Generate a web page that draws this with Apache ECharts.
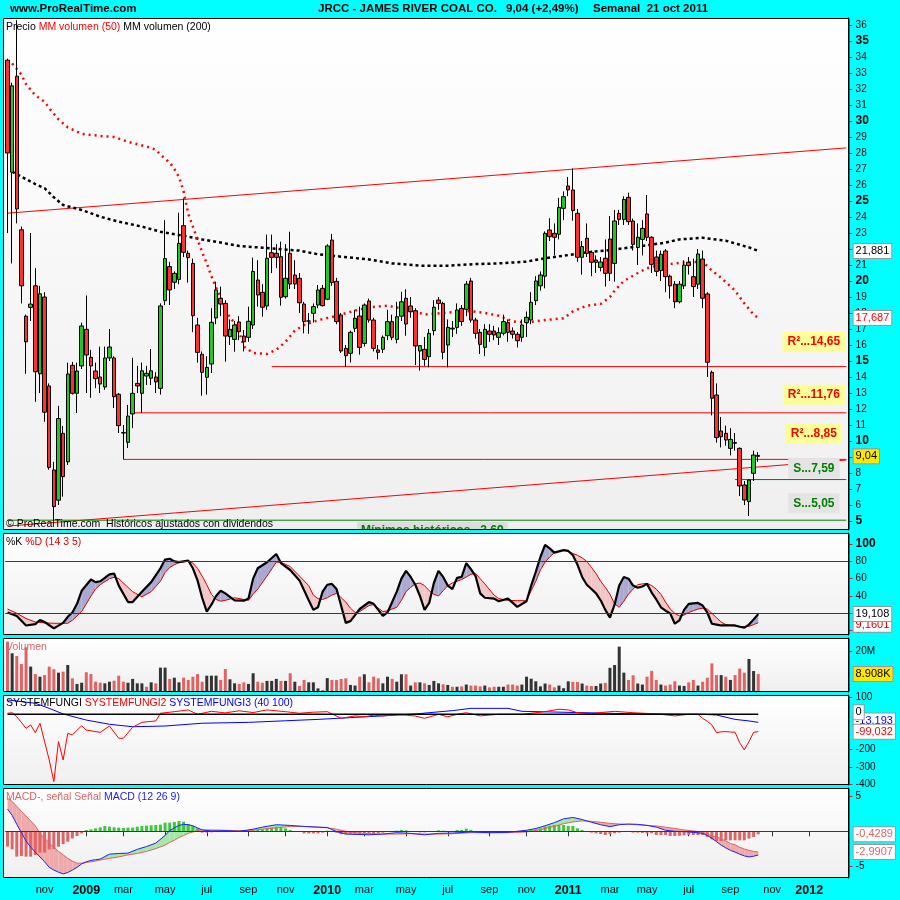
<!DOCTYPE html>
<html>
<head>
<meta charset="utf-8">
<title>JRCC - JAMES RIVER COAL CO.</title>
<script src="https://cdn.jsdelivr.net/npm/echarts@6.0.0/dist/echarts.min.js"></script>
<style>
html,body{margin:0;padding:0;background:#00ffff;}
#chart{width:900px;height:900px;}
</style>
</head>
<body>
<div id="chart"></div>
<script>
// ================= DATA =================
const firstWeek = [2008, 8, 8];   // Monday 8 Sep 2008 (weekly bars)
const weekCount = 182;            // categories on the time axis (bars + empty future weeks)

const opens = [33.8,26.8,32.8,23.2,17.8,18.35,19.7,14.2,19.0,13.44,
8.19,6.3,10.48,8.7,14.73,12.98,14.69,16.98,15.23,14.375,
14.0,13.375,15.19,15.19,12.92,10.5,9.92,11.69,13.6,12.98,
14.06,13.92,14.0,13.29,18.77,20.9,19.92,20.1,23.46,21.73,
21.1,17.25,15.42,13.98,14.81,17.69,18.92,18.6,16.52,16.35,
17.44,16.56,16.48,17.25,20.06,19.29,18.44,21.77,21.73,21.52,
19.02,21.73,20.375,20.17,18.56,17.5,17.98,18.5,19.54,18.86,
22.56,19.98,17.875,15.79,15.48,17.04,17.81,16.1,18.75,17.56,
15.69,15.73,16.58,17.46,16.35,17.8,18.92,18.44,18.14,15.625,
15.73,15.27,16.9,18.81,18.6,16.0,17.0,17.1,18.29,18.23,
20.0,17.56,16.79,15.85,16.875,16.875,16.48,16.73,17.4,16.875,
16.67,16.48,17.4,17.56,18.77,19.7,20.3,23.19,22.98,22.92,
24.54,25.94,25.69,24.23,21.48,22.67,21.79,21.31,20.85,21.42,
22.625,21.1,24.23,23.85,25.23,23.75,22.1,22.6,24.19,22.73,
21.5,20.65,21.875,20.3,19.8,18.7,19.7,21.17,20.27,19.8,
21.375,19.19,14.29,12.875,10.625,10.48,9.54,9.86,9.54,7.25,
6.21,7.98,9.1];
const highs = [33.9,32.4,36.3,23.4,17.9,23.0,20.8,19.7,19.3,13.6,
8.7,12.2,10.94,14.9,14.94,14.9,17.4,19.1,15.7,14.9,
15.9,15.9,17.0,15.3,13.0,11.0,12.25,15.2,14.7,14.9,
14.7,15.75,14.3,18.6,23.8,21.2,20.6,24.27,25.17,21.9,
21.4,17.7,15.6,15.3,18.3,19.96,19.65,18.8,17.6,17.5,
17.8,16.94,18.4,21.46,21.3,19.8,22.9,22.9,22.3,22.46,
22.3,23.08,21.3,20.5,18.7,18.0,18.6,19.75,19.75,22.3,
22.94,20.2,18.0,16.0,16.9,18.2,18.4,18.6,18.9,17.7,
16.0,16.6,18.2,17.9,18.7,19.33,19.48,19.0,18.3,16.0,
16.5,17.0,18.8,19.0,18.7,17.6,17.5,18.6,18.5,20.0,
20.2,17.7,17.0,17.3,17.3,17.2,17.1,17.9,17.6,17.1,
16.8,17.6,18.1,19.3,20.3,20.6,23.1,23.92,23.6,25.2,
25.6,26.5,27.04,24.5,22.5,23.6,21.9,21.6,21.5,22.6,
24.06,24.44,24.44,25.3,25.52,23.9,23.6,23.8,25.375,22.8,
21.9,21.9,22.0,20.4,20.0,20.0,21.3,21.5,21.4,22.0,
21.9,19.3,14.4,13.6,11.5,10.96,10.8,10.5,9.6,7.5,
7.6,9.4,9.3];
const lows = [23.0,21.1,23.6,18.6,14.2,17.5,12.45,13.0,11.2,8.2,
5.06,6.0,6.52,8.5,12.9,11.75,14.5,13.0,12.7,13.3,
13.0,13.2,15.0,12.06,10.5,8.85,9.56,10.8,13.0,11.75,
13.5,13.5,13.0,12.9,18.5,18.5,19.5,19.8,21.5,19.9,
16.8,14.9,12.83,12.9,14.25,17.3,17.8,14.96,16.0,15.58,
16.3,15.6,16.2,17.0,18.4,17.77,18.2,20.5,20.8,18.46,
18.9,19.5,19.5,18.0,16.73,16.7,17.4,18.3,18.4,18.8,
19.7,17.3,15.5,14.65,14.9,16.8,15.4,15.9,17.4,15.6,
15.1,15.5,16.3,16.3,16.1,17.5,16.58,17.7,14.75,14.4,
14.7,14.6,16.6,18.2,15.1,14.6,16.5,16.7,17.2,17.8,
17.4,16.4,15.44,15.3,16.2,16.3,16.0,16.6,16.2,16.4,
15.85,16.2,16.5,17.3,18.5,19.4,19.54,22.5,21.6,22.6,
23.8,25.3,23.77,21.2,20.4,21.5,20.3,20.5,20.6,19.65,
20.0,19.96,23.5,23.5,23.5,21.9,21.0,21.6,22.5,20.5,
20.3,20.0,19.3,18.9,18.3,18.6,19.5,20.4,19.0,19.5,
18.3,14.0,11.6,9.9,9.6,9.7,9.1,9.4,6.56,6.0,
5.31,7.5,8.7];
const closes = [28.0,32.2,24.5,19.7,16.2,18.56,14.33,19.2,11.8,8.35,
5.9,11.4,7.77,14.19,12.98,14.375,17.19,15.375,14.69,13.9,
13.56,15.19,15.875,12.77,10.96,10.52,11.56,12.98,13.44,14.39,
14.23,14.39,13.69,18.44,21.4,19.44,20.48,22.35,21.79,21.46,
17.83,15.54,14.29,14.6,17.42,19.44,18.56,16.56,16.98,17.25,
16.83,16.2,17.48,20.6,19.125,18.36,21.42,21.48,21.48,18.98,
20.17,19.81,19.81,18.64,17.46,17.5,18.4,19.44,18.46,22.19,
19.9,17.46,15.625,15.33,16.79,17.67,15.85,18.5,17.56,15.79,
15.54,16.48,17.46,16.48,17.77,18.7,17.31,18.08,15.94,15.96,
15.1,16.73,18.36,18.6,15.54,17.1,17.05,18.19,17.46,19.81,
17.56,16.73,16.04,16.98,16.67,16.625,16.77,17.46,16.79,16.67,
16.27,17.25,17.73,18.67,20.0,20.375,22.98,22.77,22.73,24.6,
25.27,25.69,24.4,21.48,22.15,21.73,21.17,21.17,21.19,20.48,
20.48,23.75,23.85,25.1,23.71,22.29,22.73,23.29,22.73,21.04,
20.6,21.67,20.27,19.7,18.7,19.8,21.0,20.96,19.65,21.69,
18.92,14.92,12.67,10.21,10.27,10.06,10.1,9.9,7.19,6.31,
7.56,9.125,9.04];
// weekly volume, millions
const volumes = [25.0,19.2,17.9,13.9,22.2,12.6,8.9,7.6,8.4,12.6,
11.3,9.6,10.1,13.4,6.8,4.0,4.6,9.8,8.9,5.1,
4.6,4.3,5.1,5.6,8.1,5.1,4.6,6.5,4.3,4.3,
2.6,4.8,4.3,12.1,12.1,6.5,7.1,4.8,7.1,6.0,
7.6,8.9,5.1,8.1,8.1,8.1,6.0,11.4,6.3,4.3,
4.0,4.8,4.0,9.3,5.1,4.6,5.5,5.5,6.5,5.5,
5.5,9.3,5.1,3.0,6.0,4.8,4.8,1.8,1.0,6.9,
6.0,6.0,6.5,6.8,3.5,3.2,7.6,8.8,4.8,7.6,
6.8,4.3,7.6,6.5,5.1,8.8,8.8,3.2,4.8,4.8,
4.3,3.5,5.5,4.3,3.8,3.5,2.6,2.6,2.8,3.7,
3.2,3.2,2.8,3.2,2.3,2.6,2.6,2.6,3.7,3.7,
3.2,3.7,7.6,6.6,5.3,2.8,4.2,3.7,2.3,3.2,
1.9,5.3,5.0,5.0,4.2,3.2,3.0,3.0,4.2,4.5,
12.0,13.4,22.5,9.6,6.0,8.3,4.2,3.7,7.6,10.5,
6.0,3.7,3.2,3.7,5.3,3.2,3.0,4.8,6.0,3.2,
5.1,7.1,14.2,8.4,8.4,7.6,6.0,8.4,11.6,9.6,
16.4,10.4,8.908];
// "MM volumen (50)" and "MM volumen (200)" curves: [week index, price]
const ma50 = [[1,33.6],[3,32.9],[4,32.3],[6,31.6],[8,31.2],[9,30.8],[11,30.1],[13,29.6],[16,29.2],[20,29.06],
[23,29.0],[26,28.7],[30,28.4],[32,28.2],[33,27.9],[35,27.4],[36,27.0],[37,26.5],[38,25.6],[39,24.2],
[40,23.4],[41,22.6],[42,21.8],[43,21.1],[44,20.3],[45,19.6],[47,18.3],[48,17.7],[49,17.4],[50,16.8],
[51,15.9],[53,15.5],[56,15.44],[58,15.7],[60,16.2],[62,16.9],[64,17.25],[67,17.55],[70,17.75],[75,18.15],
[78,18.35],[82,18.46],[85,18.29],[88,18.1],[90,17.9],[94,18.0],[97,18.08],[100,18.12],[103,18.0],[106,17.83],
[109,17.47],[112,17.4],[116,17.56],[120,17.67],[122,18.1],[125,18.46],[128,18.56],[130,19.0],[131,19.4],[133,20.0],
[136,20.5],[138,20.8],[141,21.0],[144,21.1],[147,21.17],[150,21.2],[152,20.65],[154,20.2],[157,19.4],[159,18.6],
[161,17.9],[162,17.687]];
const ma200 = [[1,26.83],[3,26.52],[6,26.06],[8,25.8],[10,25.23],[12,24.75],[16,24.44],[20,24.02],[24,23.71],[29,23.4],
[33,23.08],[37,22.88],[42,22.6],[46,22.4],[50,22.19],[55,22.08],[59,21.98],[63,21.9],[67,21.67],[72,21.52],
[78,21.35],[83,21.1],[89,20.96],[95,20.96],[101,21.06],[106,21.1],[112,21.21],[116,21.42],[121,21.62],[125,21.79],
[129,21.9],[137,22.19],[142,22.4],[145,22.6],[150,22.7],[155,22.52],[160,22.1],[162,21.881]];
// trend channel (price at first / last category)
const channelUpper = [[0,24.24],[181,28.32]];
const channelLower = [[0,4.68],[181,8.81]];
// horizontal levels
const levelValues = [14.65, 11.76, 8.85, 7.59, 5.05];
const levelStarts = [57, 27, 25, 157, 0];
const levelTexts = ['R\u00b2...14,65', 'R\u00b2...11,76', 'R\u00b2...8,85', 'S...7,59', 'S...5,05'];
const priceTicks = [5,6,7,8,9,10,11,12,13,14,15,16,17,18,19,20,21,22,23,24,25,26,27,28,29,30,31,32,33,34,35,36];

// Stochastic %K / %D (14 3 5)
const stochIdx = [0,2,4,6,7,8,10,12,13,14,15,16,18,19,20,22,23,24,26,27,
29,31,33,34,35,36,37,39,40,41,42,43,44,45,46,47,49,51,52,53,
54,56,58,59,61,63,65,66,67,68,69,70,71,73,74,75,76,78,79,81,
82,84,85,86,87,88,89,90,91,92,93,94,95,96,97,98,99,100,101,102,
103,105,106,108,110,112,113,114,115,116,117,118,120,121,122,123,124,125,126,127,
128,129,130,131,132,133,134,135,136,137,138,139,140,141,142,143,144,145,146,147,
148,149,150,151,152,153,154,155,156,157,158,159,160,161,162];
const stochK = [21,17,6,7.5,12.3,10,2.7,9,16,21,31,46,59,56,57,65,66,52,33,33,
45,56,72,82,83,80,79,81,72,58,38,22,30,40,46,43,35,34.6,37,60,
72,79,88.5,78,70,58,35,24,27,45,53,54,48,9,11,18,25,33,31,17,
21,45,60,69,62,53,40,24,32,55,69,62,52,48,61,62,78,71,63,43,
38,37,34,37,27.5,34,52,68,85,99,95,90,93,92,87,76,62,53,48,43,
35,24,15,30,52,62,60,52,49.5,51,54,44,36,27,23,20,8,12,24,31,
31.5,32,29,21,8,7,6,6,6,6,4.5,3.5,7,13,19.108];
const stochD = [25,20,14,10,9.5,9,8.5,8.5,8.5,12,17,22,40,48,53,60,61.5,60,50,45,
39,45,57,67,73,76,78.5,80,78,72,63,53,42,36,34,35,38,36,35,42,
48,63,79,79,74,63,52,41,37,36,38,41,43,33,26,21,22,29,30,22,
23,27,35,45,50,54,55,52,46,42,40,46,52,55,57,59,62,65,66,60,
54,41,37,35,34.6,34.6,46,57,70,79,85,90,93,92,89,87,84,80,73,66,
57,50,42,31,27,34,42,48,53,54,54.6,52,48,42,33,25,20,17,18,21,
23,25,25.8,25,20,15,10,7,6,5.5,5,4.6,5,7,9.1601];
const stochTicks = [0,20,40,60,80,100];

// SYSTEMFUNGI2 (red) / SYSTEMFUNGI3 (blue): [week index, value]
const fungi2 = [[0,6],[1,9],[2,-14],[4,-80],[5,-61],[6,-105],[7,-51],[8,-156],[9,-261],[10,-385],
[11,-156],[12,-261],[13,-109],[14,-118],[16,-65],[17,-90],[20,-103],[22,-67],[24,-137],[25,-137],
[27,-74],[29,-46],[32,-38],[33,6],[36,15],[39,25],[41,0],[44,17],[47,8],[50,20],
[53,10],[56,25],[60,15],[63,6],[66,12],[69,15],[72,-23],[75,-9],[77,-14],[79,-5],
[81,-9],[84,-2],[86,-5],[88,-10],[90,-23],[93,0],[95,-14],[97,0],[99,9],[102,-9],
[106,0],[111,0],[116,15],[119,29],[121,25],[123,9],[126,5],[131,17],[135,9],[138,5],
[141,0],[144,-9],[147,0],[149,0],[150,-23],[151,-40],[152,-61],[153,-105],[154,-100],[155,-99],
[156,-101],[157,-103],[158,-162],[159,-204],[160,-156],[161,-103],[162,-99.032]];
const fungi3 = [[0,82],[6,63],[9,34],[12,2],[17,-33],[22,-57],[27,-71],[34,-67],[42,-51],[52,-46],
[60,-37],[67,-29],[74,-19],[81,-9],[88,2],[96,21],[100,34],[108,34],[111,17],[123,10],
[131,5],[139,2],[150,0],[153,-4],[157,-29],[160,-38],[162,-46]];
const fungi1 = [[0,0],[162,0]];
const fungiTicks = [100,-200,-300,-400];

// MACD (12 26 9)
const macdIdx = [0,1,2,3,4,5,6,7,8,9,10,11,12,13,14,15,16,17,18,19,
20,22,24,26,28,30,32,34,35,36,37,38,39,40,41,42,44,47,50,53,
55,58,61,64,67,69,71,73,75,78,81,84,87,90,93,96,100,104,108,112,
114,116,118,120,122,124,126,128,130,132,134,136,138,140,142,144,146,148,150,151,
152,153,154,155,156,157,158,159,160,161,162];
const macdLine = [3.2,2.3,1.0,-0.2,-1.4,-2.3,-3.0,-3.7,-4.4,-5.2,-5.6,-5.9,-6.15,-5.95,-5.6,-5.2,-4.7,-4.4,-4.2,-4.1,
-4.0,-3.3,-3.2,-3.15,-2.6,-2.2,-1.7,-0.6,0.1,0.5,0.85,1.0,0.95,0.8,0.5,0.2,0.05,0.1,0.0,0.3,
0.6,0.95,0.85,0.7,0.6,0.55,-0.05,-0.4,-0.45,-0.5,-0.4,-0.2,-0.3,-0.5,-0.3,-0.25,-0.1,-0.2,-0.15,0.15,
0.4,0.8,1.25,1.8,2.0,1.7,1.3,0.95,0.67,0.95,1.05,1.0,0.85,0.6,0.15,0.0,-0.05,-0.15,-0.3,-0.6,
-1.0,-1.5,-2.0,-2.4,-2.75,-3.0,-3.3,-3.55,-3.7,-3.6,-3.42];
const signalLine = [4.8,4.3,3.6,2.9,2.2,1.5,0.8,-0.3,-1.0,-1.7,-2.3,-2.9,-3.4,-3.9,-4.3,-4.6,-4.6,-4.5,-4.4,-4.3,
-4.15,-3.9,-3.7,-3.4,-3.2,-2.9,-2.5,-2.0,-1.6,-1.3,-0.9,-0.6,-0.3,-0.1,0.1,0.2,0.2,0.15,0.1,0.15,
0.3,0.5,0.7,0.7,0.6,0.5,0.3,0.0,-0.2,-0.35,-0.4,-0.4,-0.35,-0.4,-0.4,-0.35,-0.2,-0.2,-0.2,-0.1,
0.1,0.4,0.7,1.1,1.35,1.5,1.45,1.3,1.15,1.05,1.0,0.95,0.85,0.77,0.6,0.4,0.2,0.05,-0.1,-0.4,
-0.7,-0.8,-1.1,-1.4,-1.75,-1.95,-2.3,-2.55,-2.75,-2.9,-2.9907];
const macdHist = [-2.2,-2.6,-3.66,-3.56,-3.66,-3.66,-3.42,-3.08,-3.08,-2.61,
-2.56,-2.22,-1.84,-1.5,-1.02,-0.68,-0.3,0.19,0.29,0.43,
0.58,0.77,0.67,0.58,0.53,0.48,0.53,0.53,0.67,0.77,
0.82,0.87,0.91,0.96,1.25,1.25,1.34,1.49,1.39,1.06,
0.77,0.43,-0.19,-0.19,-0.15,-0.1,-0.05,0.05,0.05,0.0,
-0.05,0.05,0.1,0.15,0.2,0.3,0.43,0.53,0.67,0.58,
0.43,0.19,0.05,0.0,-0.3,-0.3,-0.3,-0.3,-0.2,0.1,
0.0,-0.2,-0.4,-0.4,-0.35,-0.35,-0.4,-0.3,-0.35,-0.4,
-0.3,-0.2,-0.1,0.05,0.1,0.2,0.15,0.0,-0.1,-0.15,
-0.15,-0.1,0.0,0.15,0.1,0.05,0.05,0.19,0.19,0.38,
0.2,0.05,-0.05,-0.05,-0.05,-0.19,-0.05,0.0,-0.05,-0.1,
-0.19,-0.05,0.1,0.19,0.29,0.43,0.67,0.77,0.91,0.91,
0.91,0.77,0.77,0.43,0.19,0.0,-0.19,-0.29,-0.39,-0.53,
-0.43,-0.29,-0.19,-0.1,-0.05,-0.19,-0.19,-0.24,-0.29,-0.29,
-0.53,-0.53,-0.53,-0.68,-0.68,-0.63,-0.58,-0.53,-0.53,-0.53,
-0.53,-0.82,-1.16,-1.4,-1.4,-1.3,-1.3,-1.3,-1.3,-1.3,
-1.06,-0.82,-0.4289];
const macdTicks = [5,-5];

// ================= CHART =================
const FONT = '"Liberation Sans", Arial, Helvetica, sans-serif';
const cats = [];
for (let i = 0; i < weekCount; i++) {
  const d = new Date(Date.UTC(firstWeek[0], firstWeek[1], firstWeek[2] + 7 * i));
  cats.push(d.toISOString().slice(0, 10));
}
const monthNames = ['ene','feb','mar','abr','may','jun','jul','ago','sep','oct','nov','dic'];
const showMonth = (i) => {
  if (i === 0) return false;
  const m = +cats[i].slice(5, 7);
  return m !== +cats[i - 1].slice(5, 7) && m % 2 === 1;
};
const fmt = (v, d) => v.toFixed(d).replace('.', ',');
const last = closes.length - 1;

const panels = [
  {top: 18, h: 512}, {top: 533, h: 102}, {top: 638, h: 54}, {top: 695, h: 90}, {top: 788, h: 90}
];
const GL = 5.2, GW = 843.4;

function tag(v, text, color, bg, dy) {
  return {
    yAxis: v, lineStyle: {color: 'rgba(0,0,0,0)', width: 1},
    label: {show: true, position: 'end', formatter: text, color: color, backgroundColor: bg,
      borderColor: '#999', borderWidth: 1, padding: [2, 2, 1, 2], fontSize: 11, fontFamily: FONT,
      distance: 5, offset: [0, dy || 0], opacity: 1}
  };
}
function tagLine(items) {
  return {symbol: ['none', 'none'], silent: true, animation: false, data: items};
}
function yAx(gi, min, max, ticks, fmtFn, rich) {
  return {
    type: 'value', gridIndex: gi, position: 'right', min: min, max: max, scale: false,
    axisLine: {show: true, lineStyle: {color: '#000', width: 1}},
    splitLine: {show: false},
    axisTick: {show: true, customValues: ticks, length: 4, lineStyle: {color: '#c83232'}},
    axisLabel: {show: true, customValues: ticks, formatter: fmtFn, color: '#000', fontSize: 10,
      fontFamily: FONT, margin: 7, rich: rich || {}}
  };
}
function xAx(gi, visible) {
  const ax = {type: 'category', gridIndex: gi, data: cats, boundaryGap: true,
    axisLine: {show: false}, splitLine: {show: false}};
  if (!visible) {
    ax.axisTick = {show: false};
    ax.axisLabel = {show: false};
  } else {
    ax.axisTick = {show: true, interval: (i) => showMonth(i), alignWithLabel: true, length: 5,
      lineStyle: {color: '#333'}};
    ax.axisLabel = {show: true, interval: (i) => showMonth(i), color: '#000', fontSize: 11,
      fontFamily: FONT, margin: 6,
      formatter: (v) => { const m = +v.slice(5, 7); return m === 1 ? '{y|' + v.slice(0, 4) + '}' : monthNames[m - 1]; },
      rich: {y: {fontSize: 12.5, fontWeight: 'bold', color: '#000', fontFamily: FONT}}};
  }
  return ax;
}
function bandSeries(gi, idx, a, b, colA, colB) {
  const segs = [];
  for (let j = 0; j < idx.length - 1; j++) segs.push([idx[j], a[j], b[j], idx[j + 1], a[j + 1], b[j + 1]]);
  return {
    type: 'custom', xAxisIndex: gi, yAxisIndex: gi, silent: true, z: 1,
    encode: {x: 0, y: 1},
    data: segs.map(s => [s[0], s[1]]),
    renderItem: function (params, api) {
      const s = segs[params.dataIndex];
      const A0 = api.coord([s[0], s[1]]), A1 = api.coord([s[3], s[4]]);
      const B0 = api.coord([s[0], s[2]]), B1 = api.coord([s[3], s[5]]);
      const d0 = s[1] - s[2], d1 = s[4] - s[5];
      const kids = [];
      const poly = (pts, c) => kids.push({type: 'polygon', shape: {points: pts}, style: {fill: c}});
      if (d0 * d1 < 0) {
        const t = d0 / (d0 - d1);
        const X = [A0[0] + t * (A1[0] - A0[0]), A0[1] + t * (A1[1] - A0[1])];
        poly([A0, X, B0], d0 > 0 ? colA : colB);
        poly([X, A1, B1], d1 > 0 ? colA : colB);
      } else {
        poly([A0, A1, B1, B0], (d0 + d1) >= 0 ? colA : colB);
      }
      return {type: 'group', children: kids};
    }
  };
}
const pair = (idx, vals) => idx.map((x, j) => [x, vals[j]]);

// level label boxes (offset in px above the level line)
const levelLabelShift = [-25, -18, -26, -11, -17];
const levelSeries = levelValues.map((v, k) => {
  const isRes = levelTexts[k].charAt(0) === 'R';
  return {
    type: 'line', xAxisIndex: 0, yAxisIndex: 0, symbol: 'none', silent: true, z: 3,
    data: [[levelStarts[k], v], [weekCount - 1, v]],
    lineStyle: {color: isRes ? '#ff0000' : '#008000', width: 1},
    markPoint: {
      silent: true, animation: false,
      data: [{coord: [174, v], symbol: 'rect', symbolSize: 0,
        label: {show: true, position: 'inside', formatter: levelTexts[k], offset: [0, levelLabelShift[k]],
          color: isRes ? '#ff0000' : '#008000', fontWeight: 'bold', fontSize: 12, fontFamily: FONT,
          backgroundColor: isRes ? '#ffff99' : '#e4e4e4', padding: [4, 5, 4, 5]}}]
    }
  };
});

// volume bar colour: dark when the week closed above the previous close, salmon otherwise
const volUp = (i) => closes[i] >= (i === 0 ? opens[0] : closes[i - 1]);

const series = [
  // ---- price panel ----
  {type: 'line', xAxisIndex: 0, yAxisIndex: 0, symbol: 'none', silent: true, z: 3,
    data: channelUpper, lineStyle: {color: '#ff0000', width: 1}},
  {type: 'line', xAxisIndex: 0, yAxisIndex: 0, symbol: 'none', silent: true, z: 3,
    data: channelLower, lineStyle: {color: '#ff0000', width: 1}},
  ...levelSeries,
  {type: 'line', xAxisIndex: 0, yAxisIndex: 0, symbol: 'none', silent: true, z: 4,
    data: ma200, lineStyle: {color: '#000', width: 2.5, type: [3, 3]},
    markLine: tagLine([tag(21.881, '21,881', '#000', '#fff')])},
  {type: 'line', xAxisIndex: 0, yAxisIndex: 0, symbol: 'none', silent: true, z: 4,
    data: ma50, lineStyle: {color: '#ff0000', width: 2.5, type: [2, 4]},
    markLine: tagLine([tag(17.687, '17,687', '#ff0000', '#fff')])},
  {type: 'candlestick', xAxisIndex: 0, yAxisIndex: 0, silent: true, z: 5, barWidth: 4,
    data: opens.map((o, i) => [o, closes[i], lows[i], highs[i]]),
    itemStyle: {color: '#20c820', color0: '#ff3030', borderColor: '#000', borderColor0: '#000',
      borderColorDoji: '#000', borderWidth: 1},
    markLine: tagLine([tag(closes[last], fmt(closes[last], 2), '#000', '#ffe600')])},
  // ---- stochastic ----
  bandSeries(1, stochIdx, stochK, stochD, '#a9a9d2', '#f2c6c6'),
  {type: 'line', xAxisIndex: 1, yAxisIndex: 1, symbol: 'none', silent: true, z: 3,
    data: pair(stochIdx, stochD), lineStyle: {color: '#e00000', width: 1},
    markLine: tagLine([tag(stochD[stochD.length - 1], '9,1601', '#e00000', '#fff', 2)])},
  {type: 'line', xAxisIndex: 1, yAxisIndex: 1, symbol: 'none', silent: true, z: 4,
    data: pair(stochIdx, stochK), lineStyle: {color: '#000', width: 2.2},
    markLine: tagLine([
      {yAxis: 80, lineStyle: {color: '#2828c8', width: 1, type: 'solid'}, label: {show: false}},
      {yAxis: 20, lineStyle: {color: '#2828c8', width: 1, type: 'solid'}, label: {show: false}},
      tag(stochK[stochK.length - 1], '19,108', '#000', '#fff')])},
  // ---- volume ----
  {type: 'bar', xAxisIndex: 2, yAxisIndex: 2, silent: true, barWidth: 3,
    data: volumes.map((v, i) => ({value: v, itemStyle: {color: volUp(i) ? '#333333' : '#e06464'}})),
    markLine: tagLine([tag(volumes[last], '8.908K', '#000', '#ffe600')])},
  // ---- SYSTEMFUNGI ----
  {type: 'line', xAxisIndex: 3, yAxisIndex: 3, symbol: 'none', silent: true, z: 3,
    data: fungi3, lineStyle: {color: '#0000ff', width: 1},
    markLine: tagLine([tag(-13.193, '-13,193', '#0000ff', '#fff', 4)])},
  {type: 'line', xAxisIndex: 3, yAxisIndex: 3, symbol: 'none', silent: true, z: 3,
    data: fungi2, lineStyle: {color: '#ff0000', width: 1},
    markLine: tagLine([tag(-99.032, '-99,032', '#ff0000', '#fff')])},
  {type: 'line', xAxisIndex: 3, yAxisIndex: 3, symbol: 'none', silent: true, z: 4,
    data: fungi1, lineStyle: {color: '#000', width: 1.5},
    markLine: tagLine([tag(0, '0', '#000', '#fff', -2)])},
  // ---- MACD ----
  {type: 'bar', xAxisIndex: 4, yAxisIndex: 4, silent: true, barWidth: 3, z: 2,
    data: macdHist.map(v => ({value: v, itemStyle: {color: v >= 0 ? '#3cc83c' : '#e06464'}})),
    markLine: tagLine([tag(macdHist[last], '-0,4289', '#e06464', '#fff')])},
  bandSeries(4, macdIdx, macdLine, signalLine, '#a6e6a6', '#eeaaaa'),
  {type: 'line', xAxisIndex: 4, yAxisIndex: 4, symbol: 'none', silent: true, z: 3,
    data: pair(macdIdx, signalLine), lineStyle: {color: '#e06464', width: 1},
    markLine: tagLine([tag(signalLine[signalLine.length - 1], '-2,9907', '#e06464', '#fff')])},
  {type: 'line', xAxisIndex: 4, yAxisIndex: 4, symbol: 'none', silent: true, z: 4,
    data: pair(macdIdx, macdLine), lineStyle: {color: '#2020ff', width: 1},
    markLine: tagLine([{yAxis: 0, lineStyle: {color: '#2020ff', width: 1, type: 'solid'}, label: {show: false}}])}
];

// ---- panel backgrounds / frames / texts ----
const grad = () => new echarts.graphic.LinearGradient(0, 0, 0, 1,
  [{offset: 0, color: '#ffffff'}, {offset: 1, color: '#efefef'}]);
const graphics = [];
panels.forEach((p) => {
  graphics.push({type: 'rect', z: -10, silent: true,
    shape: {x: 3, y: p.top, width: 846, height: p.h}, style: {fill: grad()}});
});
// label partly hidden behind the lower panel, as in the original screen
graphics.push({type: 'group', z: -9, silent: true,
  clipPath: {type: 'rect', shape: {x: 3, y: 18, width: 846, height: 512}},
  children: [{type: 'text', x: 357, y: 531,
    style: {text: 'M\u00ednimos hist\u00f3ricos...3,69', fill: '#008000', fontSize: 12, fontWeight: 'bold',
      fontFamily: FONT, verticalAlign: 'middle', backgroundColor: '#dcdcdc', padding: [3, 4]}}]});
panels.forEach((p) => {
  graphics.push({type: 'rect', z: 20, silent: true,
    shape: {x: 3.5, y: p.top + 0.5, width: 845.5, height: p.h - 1}, style: {fill: 'none', stroke: '#000', lineWidth: 1}});
});
const txt = (x, y, rich, text, z) => ({type: 'text', z: z || 21, silent: true, x: x, y: y,
  style: {text: text, rich: rich, fontFamily: FONT, fontSize: 10.5, verticalAlign: 'middle', fill: '#000'}});
const headerText = (x, text) => ({type: 'text', z: 21, silent: true, x: x, y: 9,
  style: {text: text, fill: '#000', fontSize: 11.5, fontWeight: 'bold', fontFamily: FONT, verticalAlign: 'middle'}});
graphics.push(headerText(10, 'www.ProRealTime.com'));
graphics.push(headerText(318, 'JRCC - JAMES RIVER COAL CO.'));
graphics.push(headerText(506, fmt(closes[last], 2) + ' (+2,49%)'));
graphics.push(headerText(593, 'Semanal  21 oct 2011'));
const R = (c) => ({fill: c, fontFamily: FONT, fontSize: 10.5});
graphics.push(txt(6, 27, {k: R('#000'), r: R('#ff0000')}, '{k|Precio }{r|MM volumen (50)}{k| MM volumen (200)}'));
graphics.push(txt(6, 524, {k: R('#000')}, '{k|\u00a9 ProRealTime.com  Hist\u00f3ricos ajustados con dividendos}'));
graphics.push(txt(6, 542, {k: R('#000'), r: R('#e00000')}, '{k|%K }{r|%D (14 3 5)}'));
graphics.push(txt(6, 647, {s: R('#e06464')}, '{s|Volumen}'));
graphics.push(txt(6, 703, {k: R('#000'), r: R('#ff0000'), b: R('#0000ff')}, '{k|SYSTEMFUNGI }{r|SYSTEMFUNGI2 }{b|SYSTEMFUNGI3 (40 100)}'));
graphics.push(txt(6, 797, {s: R('#e06464'), b: R('#2020ff')}, '{s|MACD-, se\u00f1al Se\u00f1al }{b|MACD (12 26 9)}'));

const boldRich = {b: {fontSize: 12, fontWeight: 'bold', color: '#000', fontFamily: FONT}};
const option = {
  animation: false,
  backgroundColor: '#00ffff',
  textStyle: {fontFamily: FONT},
  grid: panels.map(p => ({left: GL, top: p.top, width: GW, height: p.h, show: false})),
  xAxis: [xAx(0, false), xAx(1, false), xAx(2, false), xAx(3, false), xAx(4, true)],
  yAxis: [
    yAx(0, 4.4375, 36.4375, priceTicks, v => (v % 5 === 0 ? '{b|' + v + '}' : String(v)), boldRich),
    yAx(1, -5, 112.7, stochTicks, v => (v === 100 ? '{b|100}' : String(v)), boldRich),
    yAx(2, 0, 26.8, [20], v => v + 'M'),
    yAx(3, -404, 110.3, fungiTicks, v => String(v)),
    yAx(4, -6.74, 6.25, macdTicks, v => String(v))
  ],
  graphic: {elements: graphics},
  series: series
};
const chart = echarts.init(document.getElementById('chart'), null, {renderer: 'canvas', width: 900, height: 900});
chart.setOption(option);
</script>
</body>
</html>
